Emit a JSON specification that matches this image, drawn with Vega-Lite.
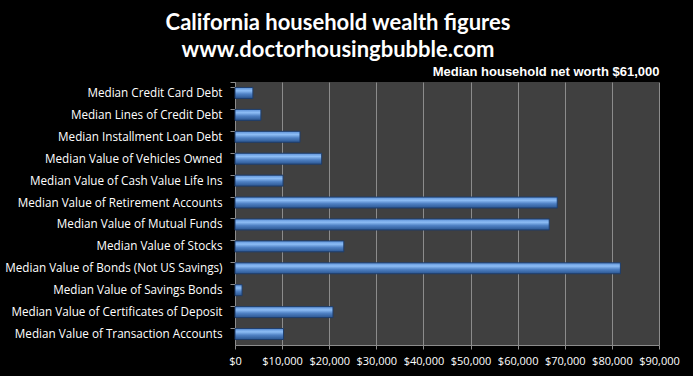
{
  "$schema": "https://vega.github.io/schema/vega-lite/v6.json",
  "width": 424,
  "height": 263,
  "autosize": {"type": "none"},
  "padding": {"left": 235, "top": 82, "right": 34, "bottom": 31},
  "background": "#000000",
  "title": {
    "text": ["California household wealth figures", "www.doctorhousingbubble.com"],
    "anchor": "middle",
    "frame": "group",
    "dx": -109,
    "offset": 3,
    "font": "Lato",
    "fontSize": 22,
    "fontWeight": "bold",
    "color": "#ffffff",
    "lineHeight": 27
  },
  "config": {
    "view": {"fill": "#404040", "stroke": null}
  },
  "data": {
    "values": [
      {"category": "Median Credit Card Debt", "value": 3800},
      {"category": "Median Lines of Credit Debt", "value": 5500},
      {"category": "Median Installment Loan Debt", "value": 13800},
      {"category": "Median Value of Vehicles Owned", "value": 18400},
      {"category": "Median Value of Cash Value Life Ins", "value": 10200},
      {"category": "Median Value of Retirement Accounts", "value": 68400},
      {"category": "Median Value of Mutual Funds", "value": 66700},
      {"category": "Median Value of Stocks", "value": 23100},
      {"category": "Median Value of Bonds (Not US Savings)", "value": 81800},
      {"category": "Median Value of Savings Bonds", "value": 1500},
      {"category": "Median Value of Certificates of Deposit", "value": 20800},
      {"category": "Median Value of Transaction Accounts", "value": 10300}
    ]
  },
  "resolve": {"axis": {"x": "independent"}},
  "layer": [
    {
      "mark": {
        "type": "bar",
        "color": {
          "gradient": "linear",
          "x1": 0, "y1": 0, "x2": 0, "y2": 1,
          "stops": [
            {"offset": 0, "color": "#5b8fd6"},
            {"offset": 0.3, "color": "#8dbdf5"},
            {"offset": 0.6, "color": "#4f81c4"},
            {"offset": 1, "color": "#2a5590"}
          ]
        },
        "stroke": "#1e3d6b",
        "strokeWidth": 1
      },
      "encoding": {
        "y": {
          "field": "category",
          "type": "nominal",
          "sort": null,
          "scale": {"paddingInner": 0.5, "paddingOuter": 0.25},
          "axis": {
            "title": null,
            "labelColor": "#ffffff",
            "labelFont": "Open Sans",
            "labelFontSize": 11.7,
            "labelLimit": 400,
            "labelPadding": 8,
            "tickColor": "#8c8c8c",
            "tickSize": 5,
            "bandPosition": 0,
            "tickExtra": true,
            "domainColor": "#8c8c8c",
            "grid": false
          }
        },
        "x": {
          "field": "value",
          "type": "quantitative",
          "scale": {"domain": [0, 90000], "nice": false},
          "axis": {
            "title": null,
            "values": [0, 10000, 20000, 30000, 40000, 50000, 60000, 70000, 80000, 90000],
            "format": "$,.0f",
            "labelColor": "#ffffff",
            "labelFont": "Open Sans",
            "labelFontSize": 11,
            "labelPadding": 6,
            "labelFlush": false,
            "tickColor": "#8c8c8c",
            "tickSize": 4,
            "domainColor": "#8c8c8c",
            "grid": true,
            "gridColor": "#8c8c8c",
            "gridWidth": 1
          }
        }
      }
    },
    {
      "mark": {"type": "bar", "opacity": 0},
      "encoding": {
        "y": {"field": "category", "type": "nominal", "sort": null},
        "x": {
          "field": "value",
          "type": "quantitative",
          "axis": {
            "orient": "top",
            "title": "Median household net worth $61,000",
            "titleAnchor": "end",
            "titleAlign": "right",
            "titleFont": "Liberation Sans",
            "titleFontSize": 13,
            "titleFontWeight": "bold",
            "titleColor": "#ffffff",
            "titlePadding": 4,
            "labels": false,
            "ticks": false,
            "domain": false,
            "grid": false
          }
        }
      }
    }
  ]
}
